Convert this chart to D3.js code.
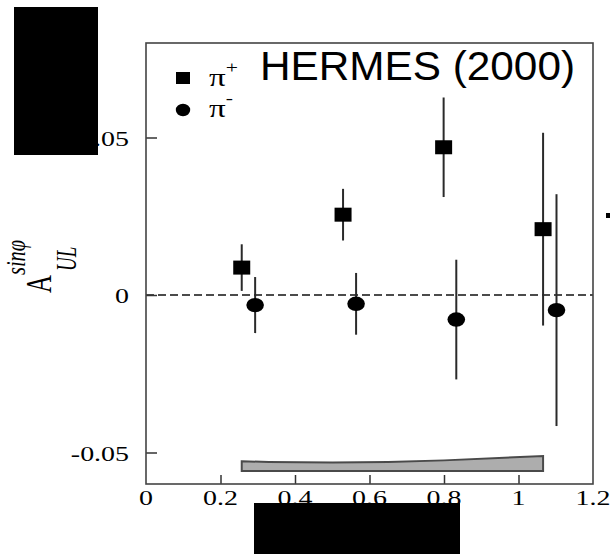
<!DOCTYPE html>
<html>
<head>
<meta charset="utf-8">
<script src="https://cdn.jsdelivr.net/npm/d3@7/dist/d3.min.js"></script>
<style>
  html, body { margin: 0; padding: 0; background: #fff; }
  svg { display: block; }
</style>
</head>
<body>
<script>
// Sin(phi) single-spin asymmetry vs x, HERMES 2000 data
const piPlusX   = [0.257, 0.529, 0.799, 1.066];
const piPlusA   = [0.0087, 0.0255, 0.0469, 0.0209];
const piPlusErr = [0.0074, 0.0082, 0.0158, 0.0306];

const piMinusX   = [0.293, 0.564, 0.833, 1.102];
const piMinusA   = [-0.0032, -0.0028, -0.0078, -0.0048];
const piMinusErr = [0.0089, 0.0098, 0.0190, 0.0368];

// systematic-uncertainty band
const sysX      = [0.257, 0.33, 0.5, 0.65, 0.8, 1.066];
const sysTop    = [-0.0528, -0.0530, -0.0532, -0.0530, -0.0525, -0.0511];
const sysBottom = -0.0559;

const xTicks = [0, 0.2, 0.4, 0.6, 0.8, 1.0, 1.2];
const xTickLabels = ["0", "0.2", "0.4", "0.6", "0.8", "1", "1.2"];
const yTicks = [-0.05, 0, 0.05];
const yTickLabels = ["-0.05", "0", "0.05"];

const W = 610, H = 554;
const svg = d3.select("body").append("svg").attr("width", W).attr("height", H);

const x = d3.scaleLinear().domain([0, 1.2]).range([146, 593]);
const y = d3.scaleLinear().domain([-0.06, 0.08]).range([484, 43]);

const SX = 1.27; // horizontal stretch of the serif labels
const serif = "'Liberation Serif', 'Times New Roman', serif";

// systematic band
const bandPts = sysX.map((v, i) => [x(v), y(sysTop[i])])
  .concat([[x(sysX[sysX.length - 1]), y(sysBottom)], [x(sysX[0]), y(sysBottom)]]);
svg.append("path")
  .attr("d", d3.line()(bandPts) + "Z")
  .attr("fill", "#adadad")
  .attr("stroke", "#4a4a4a")
  .attr("stroke-width", 2)
  .attr("stroke-linejoin", "miter");

// zero line
svg.append("line")
  .attr("x1", x(0)).attr("x2", x(1.2))
  .attr("y1", y(0)).attr("y2", y(0))
  .attr("stroke", "#111").attr("stroke-width", 1.5)
  .attr("stroke-dasharray", "8,4");

// ticks (drawn inward)
svg.append("g")
  .attr("transform", `translate(0,${y(-0.06)})`)
  .call(d3.axisBottom(x).tickValues(xTicks.slice(1, -1)).tickSize(-9).tickFormat(""))
  .call(g => g.select(".domain").remove())
  .call(g => g.selectAll("line").attr("stroke", "#333").attr("stroke-width", 1.5));

svg.append("g")
  .attr("transform", `translate(${x(0)},0)`)
  .call(d3.axisLeft(y).tickValues(yTicks).tickSize(-11).tickFormat(""))
  .call(g => g.select(".domain").remove())
  .call(g => g.selectAll("line").attr("stroke", "#333").attr("stroke-width", 1.5));

// frame
svg.append("rect")
  .attr("x", x(0)).attr("y", y(0.08))
  .attr("width", x(1.2) - x(0)).attr("height", y(-0.06) - y(0.08))
  .attr("fill", "none").attr("stroke", "#444").attr("stroke-width", 1.6);

// tick labels
svg.selectAll("text.xl").data(xTicks).join("text")
  .attr("class", "xl")
  .attr("transform", d => `translate(${x(d)},505) scale(${SX},1)`)
  .attr("text-anchor", "middle")
  .attr("font-family", serif).attr("font-size", 22).attr("fill", "#000")
  .text((d, i) => xTickLabels[i]);

svg.selectAll("text.yl").data(yTicks).join("text")
  .attr("class", "yl")
  .attr("transform", d => `translate(129,${y(d) + 8}) scale(${SX},1)`)
  .attr("text-anchor", "end")
  .attr("font-family", serif).attr("font-size", 22).attr("fill", "#000")
  .text((d, i) => yTickLabels[i]);

// error bars
const plus = piPlusX.map((v, i) => ({ x: v, a: piPlusA[i], e: piPlusErr[i] }));
const minus = piMinusX.map((v, i) => ({ x: v, a: piMinusA[i], e: piMinusErr[i] }));

svg.selectAll("line.ep").data(plus.concat(minus)).join("line")
  .attr("class", "ep")
  .attr("x1", d => x(d.x)).attr("x2", d => x(d.x))
  .attr("y1", d => y(d.a + d.e)).attr("y2", d => y(d.a - d.e))
  .attr("stroke", "#2a2a2a").attr("stroke-width", 2);

// markers
svg.selectAll("rect.pp").data(plus).join("rect")
  .attr("class", "pp")
  .attr("x", d => x(d.x) - 8.5).attr("y", d => y(d.a) - 7)
  .attr("width", 17).attr("height", 14)
  .attr("fill", "#000");

svg.selectAll("ellipse.pm").data(minus).join("ellipse")
  .attr("class", "pm")
  .attr("cx", d => x(d.x)).attr("cy", d => y(d.a))
  .attr("rx", 8.8).attr("ry", 7.2)
  .attr("fill", "#000");

// legend
svg.append("rect").attr("x", 176).attr("y", 72).attr("width", 14).attr("height", 12).attr("fill", "#000");
svg.append("ellipse").attr("cx", 183).attr("cy", 110).attr("rx", 7.2).attr("ry", 6.2).attr("fill", "#000");

const lg1 = svg.append("text")
  .attr("transform", `translate(209,86) scale(${SX},1)`)
  .attr("font-family", serif).attr("font-size", 26).attr("fill", "#000");
lg1.append("tspan").text("π");
lg1.append("tspan").attr("dy", -13).attr("font-size", 17).text("+");

const lg2 = svg.append("text")
  .attr("transform", `translate(209,117) scale(${SX},1)`)
  .attr("font-family", serif).attr("font-size", 26).attr("fill", "#000");
lg2.append("tspan").text("π");
lg2.append("tspan").attr("dy", -13).attr("font-size", 17).text("-");

// title
svg.append("text")
  .attr("x", 260).attr("y", 80)
  .attr("font-family", "'Liberation Sans', Arial, sans-serif")
  .attr("font-size", 40).attr("fill", "#000")
  .attr("textLength", 315).attr("lengthAdjust", "spacingAndGlyphs")
  .text("HERMES (2000)");

// y-axis label  A^{sinφ}_{UL}
svg.append("text")
  .attr("transform", "translate(51,293) scale(1.4,1) rotate(-90)")
  .attr("font-family", serif).attr("font-size", 25).attr("fill", "#000")
  .text("A");
svg.append("text")
  .attr("transform", "translate(25,275) scale(1.35,1) rotate(-90)")
  .attr("font-family", serif).attr("font-style", "italic")
  .attr("font-size", 20).attr("fill", "#000")
  .attr("textLength", 35).attr("lengthAdjust", "spacingAndGlyphs")
  .text("sinφ");
svg.append("text")
  .attr("transform", "translate(76,271) scale(1.5,1) rotate(-90)")
  .attr("font-family", serif).attr("font-style", "italic")
  .attr("font-size", 19).attr("fill", "#000")
  .text("UL");

// redaction blocks
svg.append("rect").attr("x", 14).attr("y", 7).attr("width", 84).attr("height", 148).attr("fill", "#000");
svg.append("rect").attr("x", 254).attr("y", 503).attr("width", 206).attr("height", 51).attr("fill", "#000");
svg.append("rect").attr("x", 606).attr("y", 213).attr("width", 4).attr("height", 5).attr("fill", "#000");
</script>
</body>
</html>
